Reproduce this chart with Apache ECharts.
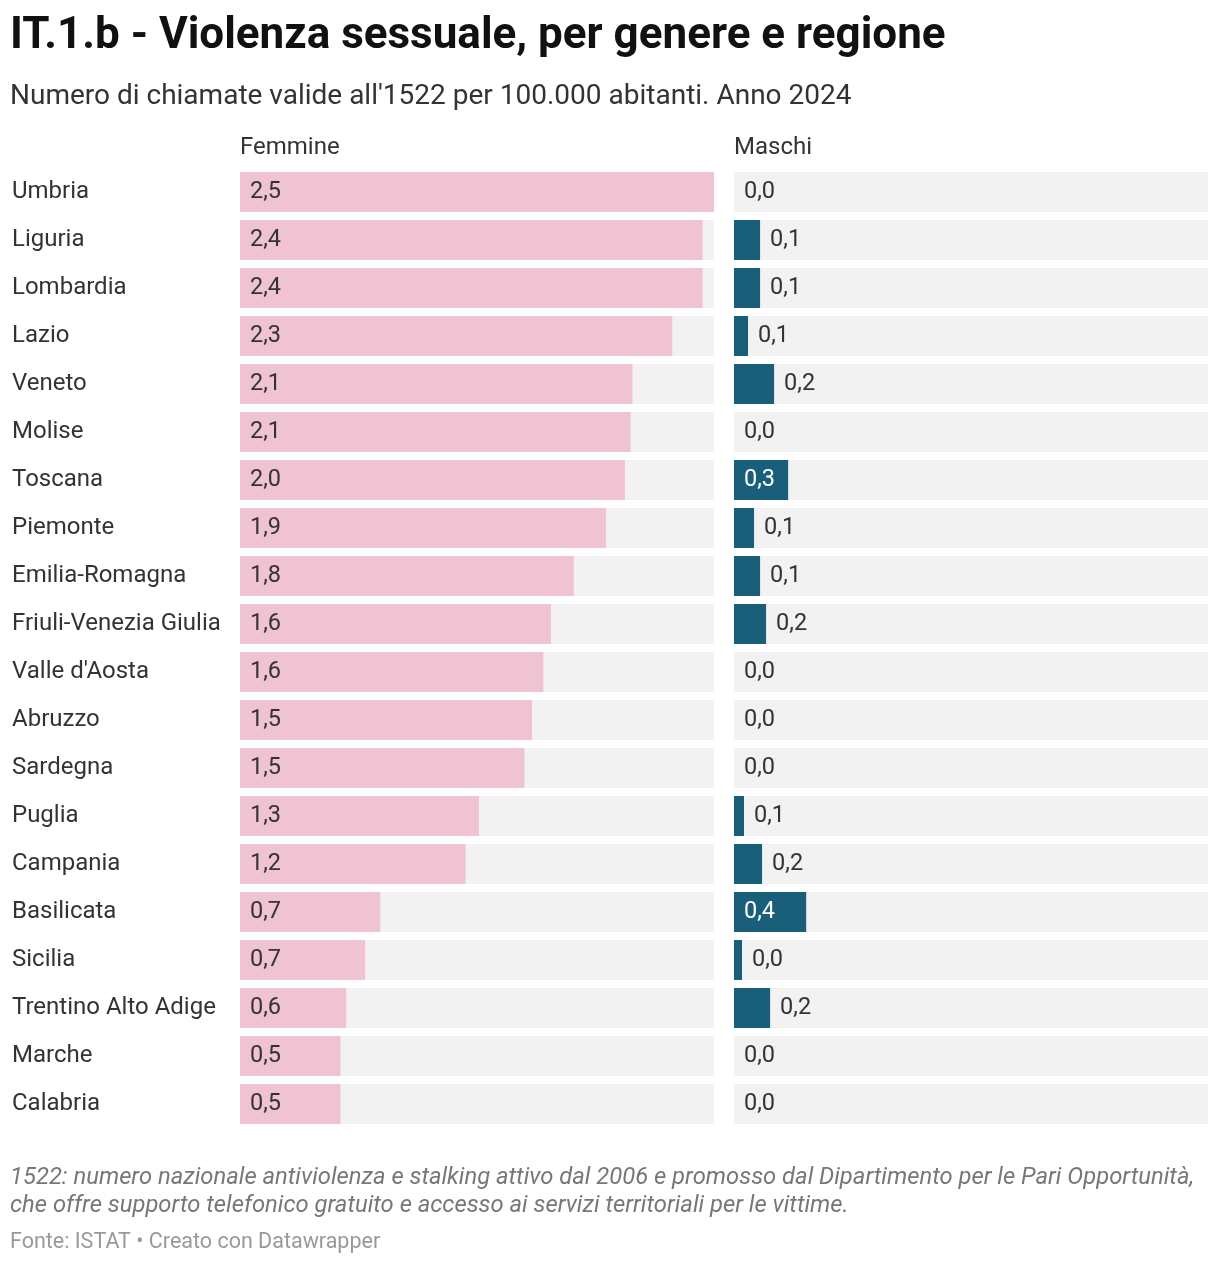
<!DOCTYPE html>
<html>
<head>
<meta charset="utf-8">
<script src="https://cdn.jsdelivr.net/npm/echarts@6/dist/echarts.min.js"></script>
<style>
  html, body { margin: 0; padding: 0; background: #fff; }
  #chart { width: 1220px; height: 1266px; }
</style>
</head>
<body>
<div id="chart"></div>
<script>
const regioni = ['Umbria', 'Liguria', 'Lombardia', 'Lazio', 'Veneto', 'Molise', 'Toscana', 'Piemonte',
  'Emilia-Romagna', 'Friuli-Venezia Giulia', "Valle d'Aosta", 'Abruzzo', 'Sardegna', 'Puglia',
  'Campania', 'Basilicata', 'Sicilia', 'Trentino Alto Adige', 'Marche', 'Calabria']
const femmine = [2.5, 2.44, 2.44, 2.28, 2.07, 2.06, 2.03, 1.93, 1.76, 1.64, 1.6, 1.54, 1.5, 1.26,
  1.19, 0.74, 0.66, 0.56, 0.53, 0.53]
const maschi = [0, 0.143, 0.143, 0.077, 0.22, 0, 0.297, 0.11, 0.143, 0.176, 0, 0, 0, 0.055,
  0.154, 0.396, 0.044, 0.198, 0, 0]
const maxF = 2.5
const maxM = 2.6

const PINK = '#f0c3d2'
const TEAL = '#1a5f7a'
const GREY = '#f2f2f2'
const fmt = v => v.toFixed(1).replace('.', ',')
const font = 'Roboto, sans-serif'

const chart = echarts.init(document.getElementById('chart'))

const maschiData = maschi.map(v => {
  let label
  if (v === 0) {
    label = { show: true, position: 'insideLeft', distance: 10, color: '#333' }
  } else if (v >= 0.25) {
    label = { show: true, position: 'insideLeft', distance: 10, color: '#fff' }
  } else {
    label = { show: true, position: 'right', distance: 10, color: '#333' }
  }
  return { value: v, label }
})

const t = (text, left, top, style) => ({ text, left, top, padding: 0,
  textStyle: Object.assign({ fontWeight: 'normal', color: '#333', fontFamily: font }, style) })

chart.setOption({
  animation: false,
  textStyle: { fontFamily: font },
  title: [
    t('IT.1.b - Violenza sessuale, per genere e regione', 10, 15, { fontSize: 44, fontWeight: 'bold', color: '#111' }),
    t("Numero di chiamate valide all'1522 per 100.000 abitanti. Anno 2024", 10, 83, { fontSize: 28 }),
    t('Femmine', 240, 136, { fontSize: 24 }),
    t('Maschi', 734, 136, { fontSize: 24 }),
    t("1522: numero nazionale antiviolenza e stalking attivo dal 2006 e promosso dal Dipartimento per le Pari Opportunità,\nche offre supporto telefonico gratuito e accesso ai servizi territoriali per le vittime.",
      10, 1164, { fontSize: 23.8, fontStyle: 'italic', color: '#777', lineHeight: 28 }),
    t('Fonte: ISTAT • Creato con Datawrapper', 10, 1232, { fontSize: 21.5, color: '#999' })
  ],
  grid: [
    { left: 240, top: 168, width: 474, height: 960 },
    { left: 734, top: 168, width: 474, height: 960 }
  ],
  xAxis: [
    { gridIndex: 0, type: 'value', min: 0, max: maxF, show: false },
    { gridIndex: 1, type: 'value', min: 0, max: maxM, show: false }
  ],
  yAxis: [
    { gridIndex: 0, type: 'category', data: regioni, inverse: true,
      axisLine: { show: false }, axisTick: { show: false },
      axisLabel: { align: 'left', margin: 228, fontSize: 24, color: '#333', fontFamily: font,
        verticalAlign: 'middle', padding: [4, 0, 0, 0] } },
    { gridIndex: 1, type: 'category', data: regioni, inverse: true, show: false }
  ],
  series: [
    { type: 'bar', xAxisIndex: 0, yAxisIndex: 0, barWidth: 40, silent: true,
      data: regioni.map(() => maxF), itemStyle: { color: GREY } },
    { type: 'bar', xAxisIndex: 0, yAxisIndex: 0, barWidth: 40, barGap: '-100%',
      data: femmine, itemStyle: { color: PINK },
      label: { show: true, position: 'insideLeft', distance: 10, color: '#333', fontSize: 23.5,
        fontFamily: font, padding: [4, 0, 0, 0], formatter: p => fmt(p.value) } },
    { type: 'bar', xAxisIndex: 1, yAxisIndex: 1, barWidth: 40, silent: true,
      data: regioni.map(() => maxM), itemStyle: { color: GREY } },
    { type: 'bar', xAxisIndex: 1, yAxisIndex: 1, barWidth: 40, barGap: '-100%',
      data: maschiData, itemStyle: { color: TEAL },
      label: { fontSize: 23.5, fontFamily: font, padding: [4, 0, 0, 0], formatter: p => fmt(p.value) } }
  ]
})
</script>
</body>
</html>
